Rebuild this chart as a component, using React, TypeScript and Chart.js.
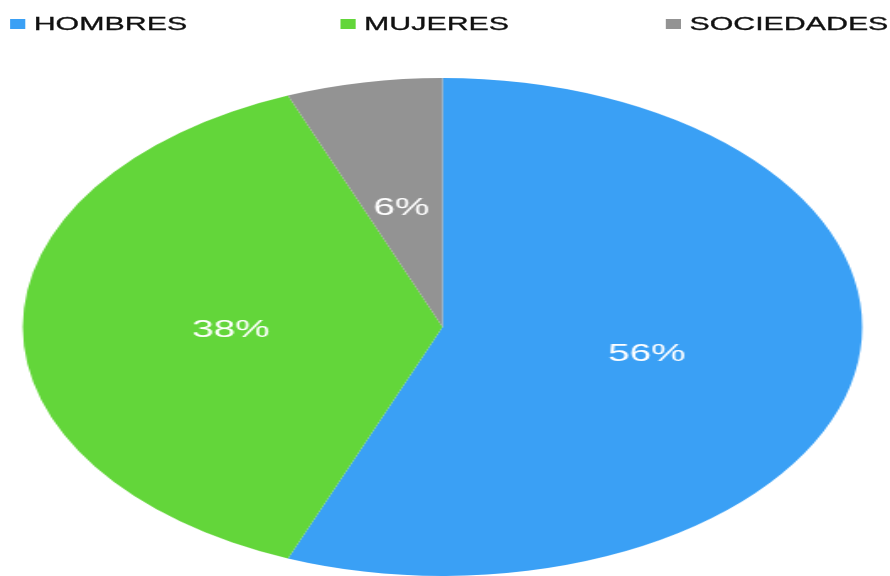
import React, { useEffect, useRef } from "react";
import { Chart, registerables } from "chart.js";

Chart.register(...registerables);

const categories = ["HOMBRES", "MUJERES", "SOCIEDADES"];
const values = [56, 38, 6];
const colors = ["#3AA0F5", "#63D63A", "#939393"];
const legendLefts = [6, 202, 395];

const INNER_W = 528;
const H = 576;
const STRETCH = 890 / INNER_W;

const labelPlugin = {
  id: "sliceLabels",
  afterDatasetsDraw(chart: any) {
    const ctx = chart.ctx;
    const meta = chart.getDatasetMeta(0);
    ctx.save();
    ctx.fillStyle = "#ffffff";
    ctx.font = "23px 'Liberation Sans', Arial, sans-serif";
    ctx.textAlign = "center";
    ctx.textBaseline = "middle";
    meta.data.forEach((arc: any, i: number) => {
      const p = arc.tooltipPosition();
      ctx.fillText(`${values[i]}%`, p.x - 1, p.y + 4);
    });
    ctx.restore();
  },
};

export default function App() {
  const ref = useRef<HTMLCanvasElement | null>(null);
  useEffect(() => {
    if (!ref.current) return;
    const chart = new Chart(ref.current, {
      type: "pie",
      data: {
        labels: categories,
        datasets: [
          {
            data: values,
            backgroundColor: colors,
            borderWidth: 0,
          },
        ],
      },
      options: {
        responsive: false,
        animation: false,
        devicePixelRatio: 1,
        layout: { padding: { top: 78, right: 3, left: 0, bottom: 0 } },
        plugins: {
          legend: { display: false },
          tooltip: { enabled: false },
        },
      },
      plugins: [labelPlugin],
    });
    return () => chart.destroy();
  }, []);

  return (
    <div
      style={{
        position: "absolute",
        left: 0,
        top: 0,
        width: INNER_W,
        height: H,
        transform: `scaleX(${STRETCH})`,
        transformOrigin: "0 0",
        background: "#ffffff",
      }}
    >
      {categories.map((c, i) => (
        <div
          key={c}
          style={{
            position: "absolute",
            left: legendLefts[i],
            top: 13,
            height: 22,
            display: "flex",
            alignItems: "center",
            fontFamily: "'Liberation Sans', Arial, sans-serif",
            fontSize: 18,
            color: "#111111",
            whiteSpace: "nowrap",
            WebkitTextStroke: "0.3px #111111",
          }}
        >
          <span
            style={{
              display: "inline-block",
              width: 9,
              height: 10,
              background: colors[i],
              marginRight: 5,
            }}
          />
          <span>{c}</span>
        </div>
      ))}
      <canvas
        ref={ref}
        width={INNER_W}
        height={H}
        style={{ display: "block", width: INNER_W, height: H }}
      />
    </div>
  );
}
